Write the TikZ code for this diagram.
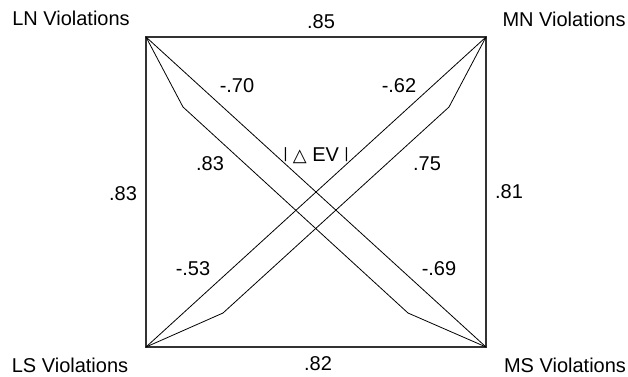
\documentclass[tikz,border=0pt]{standalone}
\usepackage{fontspec}
\setmainfont{Liberation Sans}
\newfontfamily\symfont{DejaVu Sans}
\usetikzlibrary{positioning}
\begin{document}
\begin{tikzpicture}[
    x=1pt, y=-1pt,
    lbl/.style={inner sep=0pt, anchor=base, font=\fontsize{20}{24}\selectfont},
    boxline/.style={line width=1.3pt, black!80, line join=miter},
    link/.style={line width=0.8pt, black, line join=miter}]
  \useasboundingbox (0,0) rectangle (628,376);
  \coordinate (LN) at (146,37);
  \coordinate (MN) at (486,37);
  \coordinate (LS) at (146,347);
  \coordinate (MS) at (486,347);
  \coordinate (LNb) at (183,107);
  \coordinate (MSb) at (408,313);
  \coordinate (LSb) at (223,313);
  \coordinate (MNb) at (449,107);
  \draw[boxline] (LN) rectangle (MS);
  \draw[link] (LN) -- (MS);
  \draw[link] (LN) -- (LNb) -- (MSb) -- (MS);
  \draw[link] (LS) -- (MN);
  \draw[link] (LS) -- (LSb) -- (MNb) -- (MN);
  \node[lbl] (tLN) at (71,25) {LN Violations};
  \node[lbl] (tMN) at (564,26) {MN Violations};
  \node[lbl] (tLS) at (70,372) {LS Violations};
  \node[lbl] (tMS) at (565,372) {MS Violations};
  \node[lbl] (N) at (321,28) {.85};
  \node[lbl] (S) at (318,370) {.82};
  \node[lbl] (L) at (123,200) {.83};
  \node[lbl] (M) at (509,198) {.81};
  \node[lbl] (LNMS) at (237,92) {-.70};
  \node[lbl] (MNLS) at (399,92) {-.62};
  \node[lbl] (LNd) at (210,170) {.83};
  \node[lbl] (MNd) at (427,170) {.75};
  \node[lbl] (LSMN) at (193,275) {-.53};
  \node[lbl] (MSLN) at (439,275) {-.69};
  \node[lbl] (EV) at (316,161) {\raisebox{3pt}{\fontsize{15}{17}\selectfont|} {\symfont\fontsize{18}{20}\selectfont △} EV \raisebox{3pt}{\fontsize{15}{17}\selectfont|}};
\end{tikzpicture}
\end{document}
